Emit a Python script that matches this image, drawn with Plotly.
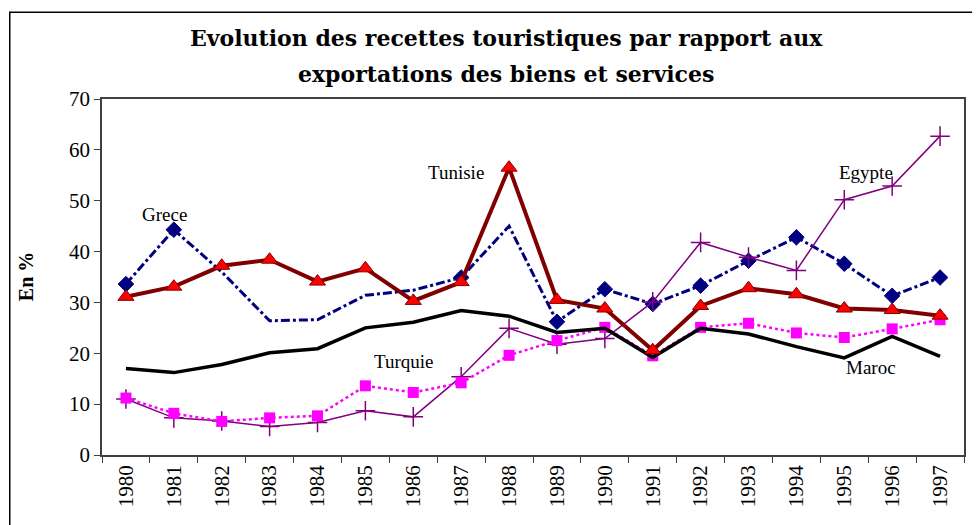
import plotly.graph_objects as go

years = [str(y) for y in range(1980, 1998)]

grece = [33.6, 44.3, 36.0, 26.4, 26.6, 31.4, 32.4, 34.9, 45.0, 26.2, 32.6, 29.7, 33.3, 38.2, 42.8, 37.6, 31.3, 34.9]
tunisie = [31.1, 33.1, 37.2, 38.4, 34.1, 36.7, 30.3, 34.0, 56.5, 30.5, 28.8, 20.6, 29.3, 32.8, 31.6, 28.8, 28.5, 27.4]
maroc = [17.0, 16.2, 17.8, 20.1, 20.9, 25.0, 26.1, 28.4, 27.3, 24.1, 24.9, 19.2, 24.9, 23.8, 21.3, 19.1, 23.3, 19.4]
turquie = [11.2, 8.2, 6.6, 7.3, 7.7, 13.6, 12.3, 14.2, 19.6, 22.5, 25.1, 19.5, 25.1, 25.9, 24.0, 23.1, 24.8, 26.6]
egypte = [11.0, 7.3, 6.7, 5.6, 6.4, 8.7, 7.5, 15.4, 24.9, 21.8, 22.9, 30.1, 41.8, 38.9, 36.3, 50.2, 52.9, 62.7]

y_ticks = [0, 10, 20, 30, 40, 50, 60, 70]

title_line1 = "Evolution des recettes touristiques par rapport aux"
title_line2 = "exportations des biens et services"
y_title = "En %"

label_names = ["Grece", "Tunisie", "Turquie", "Egypte", "Maroc"]

serif = "Liberation Serif"

fig = go.Figure()

# marker size style for Greece (some markers hidden in the original rendering)
grece_msize = [12, 12, 0, 0, 0, 0, 0, 12, 0, 12, 12, 12, 12, 12, 12, 12, 12, 12]

fig.add_trace(go.Scatter(
    x=years, y=grece, mode="lines+markers", name="Grece",
    line=dict(color="#000080", width=3, dash="dashdot"),
    marker=dict(symbol="diamond", size=grece_msize, color="#000080", opacity=1,
                line=dict(color="#000080", width=1)),
))
fig.add_trace(go.Scatter(
    x=years, y=egypte, mode="lines+markers", name="Egypte",
    line=dict(color="#800080", width=1.5),
    marker=dict(symbol="cross-thin", size=14, line=dict(color="#800080", width=1.5)),
))
fig.add_trace(go.Scatter(
    x=years, y=turquie, mode="lines+markers", name="Turquie",
    line=dict(color="#FF00FF", width=2.5, dash="dot"),
    marker=dict(symbol="square", size=11, color="#FF00FF", line=dict(width=0)),
))
fig.add_trace(go.Scatter(
    x=years, y=maroc, mode="lines", name="Maroc",
    line=dict(color="#000000", width=3.5),
))
fig.add_trace(go.Scatter(
    x=years, y=tunisie, mode="lines+markers", name="Tunisie",
    line=dict(color="#800000", width=4),
    marker=dict(symbol="triangle-up", size=14, color="#FF0000",
                line=dict(color="#800000", width=1)),
))

# series labels (x as category index, y in data units)
label_pos = [(0.8, 47.3), (6.9, 55.6), (5.8, 18.3), (15.45, 55.6), (15.55, 17.2)]
for txt, (xv, yv) in zip(label_names, label_pos):
    fig.add_annotation(x=xv, y=yv, xref="x", yref="y", text=txt, showarrow=False,
                       font=dict(family=serif, size=19, color="black"),
                       xanchor="center", yanchor="middle")

# title (two lines placed separately)
for txt, yv in [(title_line1, 1.172), (title_line2, 1.071)]:
    fig.add_annotation(xref="paper", yref="paper", x=0.469, y=yv, text=txt,
                       showarrow=False, xanchor="center", yanchor="middle",
                       font=dict(family="DejaVu Serif", size=22, color="black", weight="bold"))

# y-axis title
fig.add_annotation(xref="paper", yref="paper", x=-0.088, y=0.5, text=y_title,
                   showarrow=False, textangle=-90, xanchor="center", yanchor="middle",
                   font=dict(family=serif, size=20, color="black", weight="bold"))

# outer chart border
fig.add_shape(type="rect", xref="paper", yref="paper",
              x0=-0.107, x1=1.0104, y0=-0.25, y1=1.244,
              line=dict(color="black", width=1.5), fillcolor="rgba(0,0,0,0)")

fig.update_layout(
    width=972, height=517,
    margin=dict(l=94, r=16, t=91, b=70),
    paper_bgcolor="white", plot_bgcolor="white",
    showlegend=False,
    font=dict(family=serif, color="black"),
)

fig.update_xaxes(
    type="category", range=[-0.5, 17.5],
    tickson="boundaries", ticks="outside", ticklen=6, tickcolor="#404040",
    tickangle=-90, tickfont=dict(family=serif, size=21, color="black"),
    showline=True, linecolor="#404040", linewidth=1.5, mirror=True,
    showgrid=False, zeroline=False, automargin=False,
)
fig.update_yaxes(
    range=[0, 70], tickvals=y_ticks, ticktext=[str(v) for v in y_ticks],
    ticks="outside", ticklen=6, tickcolor="#404040",
    tickfont=dict(family=serif, size=21, color="black"),
    showline=True, linecolor="#404040", linewidth=1.5, mirror=True,
    showgrid=False, zeroline=False, automargin=False,
)

fig.write_html("out.html")
